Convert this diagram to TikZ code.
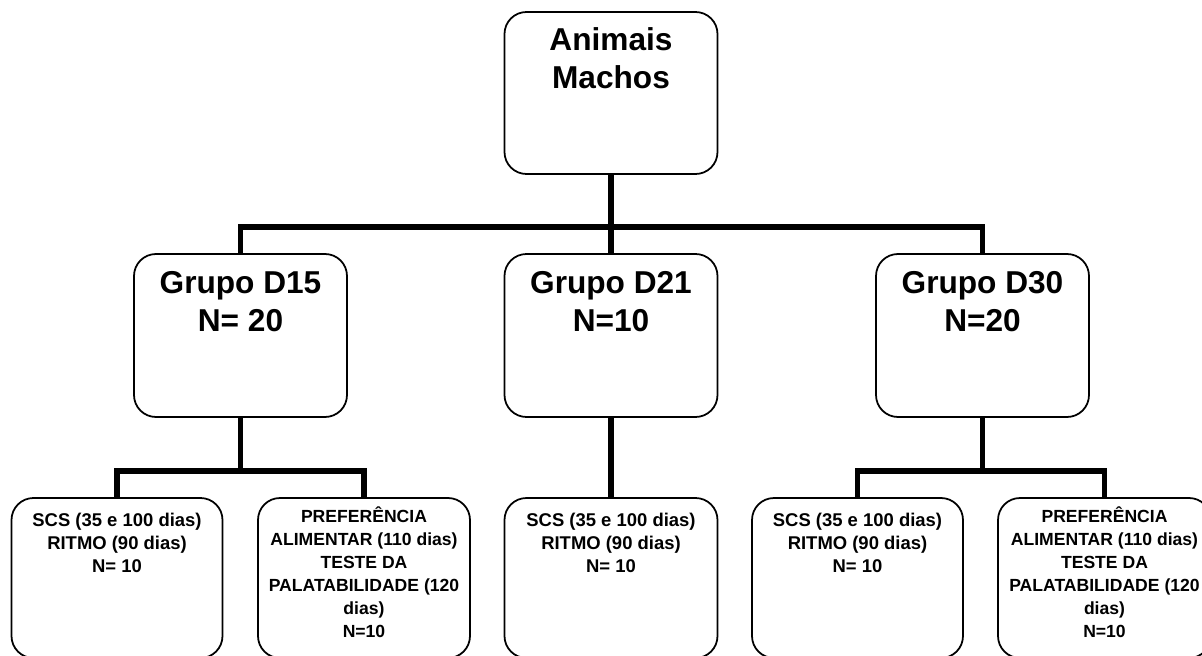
\documentclass[tikz,border=0pt]{standalone}
\usepackage{fontspec}
\setmainfont{Liberation Sans}
\usetikzlibrary{positioning}
\begin{document}
\begin{tikzpicture}[
  caixa/.style={draw,fill=white,rounded corners=0.44cm,line width=1pt,minimum width=4.26cm,minimum height=3.26cm,inner sep=0pt},
  texto/.style={align=center,inner sep=0pt,font=\bfseries\fontsize{18}{21.5}\selectfont},
  textopeq/.style={align=center,inner sep=0pt,font=\bfseries\fontsize{10.5}{13.1}\selectfont},
  linha/.style={line width=3.2pt}]
\clip (0,0) rectangle (24.04,-13.10);
\fill[white] (0,0) rectangle (24.04,-13.10);
% caixas
\node[caixa, minimum height=3.24cm] (AM) at (12.22,-1.86) {};
\node[caixa] (G15) at (4.81,-6.71) {};
\node[caixa] (G21) at (12.22,-6.71) {};
\node[caixa] (G30) at (19.65,-6.71) {};
\node[caixa, minimum width=4.22cm, minimum height=3.20cm] (S1) at (2.34,-11.56) {};
\node[caixa, minimum width=4.24cm, minimum height=3.20cm] (S2) at (7.28,-11.56) {};
\node[caixa, minimum width=4.26cm, minimum height=3.20cm] (S3) at (12.22,-11.56) {};
\node[caixa, minimum width=4.22cm, minimum height=3.20cm] (S4) at (17.15,-11.56) {};
\node[caixa, minimum width=4.26cm, minimum height=3.20cm] (S5) at (22.09,-11.56) {};
% textos
\node[texto, below=0.32cm of AM.north] (tAM) {Animais\\Machos};
\node[texto, below=0.36cm of G15.north] (t15) {Grupo D15\\N= 20};
\node[texto, below=0.36cm of G21.north] (t21) {Grupo D21\\N=10};
\node[texto, below=0.36cm of G30.north] (t30) {Grupo D30\\N=20};
\node[textopeq, below=0.32cm of S1.north] (tS1) {SCS (35 e 100 dias)\\RITMO (90 dias)\\N= 10};
\node[textopeq, font=\bfseries\fontsize{10}{13.1}\selectfont, below=0.18cm of S2.north] (tS2) {PREFERÊNCIA\\ALIMENTAR (110 dias)\\TESTE DA\\PALATABILIDADE (120\\dias)\\N=10};
\node[textopeq, below=0.32cm of S3.north] (tS3) {SCS (35 e 100 dias)\\RITMO (90 dias)\\N= 10};
\node[textopeq, below=0.32cm of S4.north] (tS4) {SCS (35 e 100 dias)\\RITMO (90 dias)\\N= 10};
\node[textopeq, font=\bfseries\fontsize{10}{13.1}\selectfont, below=0.18cm of S5.north] (tS5) {PREFERÊNCIA\\ALIMENTAR (110 dias)\\TESTE DA\\PALATABILIDADE (120\\dias)\\N=10};
% ligacoes
\coordinate (c1) at (12.22,-4.54);
\coordinate (c2) at (4.81,-9.42);
\coordinate (c3) at (19.65,-9.42);
\draw[linha] (AM) -- (c1);
\draw[linha] (G15) |- (c1) -| (G30);
\draw[linha] (c1) -- (G21);
\draw[linha] (G15) -- (c2);
\draw[linha] (S1) |- (c2) -| (S2);
\draw[linha] (G21) -- (S3);
\draw[linha] (G30) -- (c3);
\draw[linha] (S4) |- (c3) -| (S5);
\end{tikzpicture}
\end{document}
